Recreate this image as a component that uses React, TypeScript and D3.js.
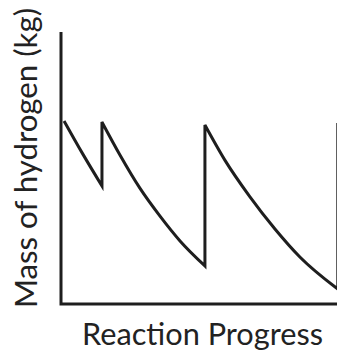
import React from "react";
import * as d3 from "d3";

// Reaction progress (x) and mass of hydrogen (y), in arbitrary units 0..100
const seg1X = [1.1, 7.9, 14.8];
const seg1Y = [67.3, 55.1, 43.4];
const seg2X = [14.8, 21.3, 28.5, 35.7, 43.0, 52.0];
const seg2Y = [66.9, 54.8, 42.6, 32.4, 23.2, 14.0];
const seg3X = [52.0, 59.2, 68.2, 77.3, 86.3, 100];
const seg3Y = [65.8, 52.9, 39.5, 27.6, 17.3, 5.5];
const seg4X = [100];
const seg4Y = [66.5];

const xLabel = "Reaction Progress";
const yLabel = "Mass of hydrogen (kg)";

const W = 337;
const H = 351;

export default function App() {
  const x = d3.scaleLinear().domain([0, 100]).range([61, 337.8]);
  const y = d3.scaleLinear().domain([0, 100]).range([304, 32]);

  const line = d3
    .line<[number, number]>()
    .x((d) => x(d[0]))
    .y((d) => y(d[1]))
    .curve(d3.curveMonotoneX);

  const segs = [
    [seg1X, seg1Y],
    [seg2X, seg2Y],
    [seg3X, seg3Y],
    [seg4X, seg4Y],
  ];
  let d = "";
  segs.forEach(([xs, ys], i) => {
    const pts = xs.map((v, j) => [v, ys[j]] as [number, number]);
    let s = pts.length > 1 ? (line(pts) as string) : `M${x(pts[0][0])},${y(pts[0][1])}`;
    if (i > 0) s = s.replace(/^M/, "L");
    d += s;
  });

  const axis = `M${x(0)},${y(100)}L${x(0)},${y(0)}L${W},${y(0)}`;

  return (
    <svg
      width={W}
      height={H}
      style={{ position: "absolute", left: 0, top: 0, background: "#fff" }}
    >
      <rect width={W} height={H} fill="#fff" />
      <path d={axis} fill="none" stroke="#1e1e1e" strokeWidth={3} strokeLinejoin="miter" />
      <path d={d} fill="none" stroke="#1e1e1e" strokeWidth={3} strokeLinejoin="miter" />
      <text
        x={82}
        y={345}
        fontFamily="Lato, 'Open Sans', sans-serif"
        fontSize={30}
        fill="#222"
        textLength={241}
        lengthAdjust="spacingAndGlyphs"
      >
        {xLabel}
      </text>
      <text
        transform="translate(37,308) rotate(-90)"
        fontFamily="Lato, 'Open Sans', sans-serif"
        fontSize={30}
        fill="#222"
        textLength={300}
        lengthAdjust="spacingAndGlyphs"
      >
        {yLabel}
      </text>
    </svg>
  );
}
